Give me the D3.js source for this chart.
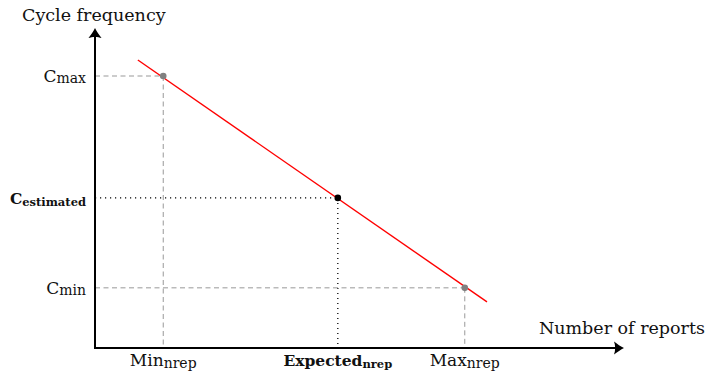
<!DOCTYPE html>
<html><head><meta charset="utf-8">
<script src="https://cdn.jsdelivr.net/npm/d3@7"></script>
<style>body{margin:0;background:#fff}svg{display:block}text{font-family:"DejaVu Serif",serif;fill:#111}</style>
</head><body>
<script>
// data (abstract units)
const pointNames = ["min", "expected", "max"];
const xValues = [12.9, 45.9, 69.9];     // number of reports
const yValues = [85, 46.9, 18.8];       // cycle frequency
const pointKinds = ["bound", "estimate", "bound"];
const lineX = [8.1, 74.1];
const lineY = [90, 14.4];
const yTickMain = ["C", "C", "C"];
const yTickSub = ["max", "estimated", "min"];
const xTickMain = ["Min", "Expected", "Max"];
const xTickSub = ["nrep", "nrep", "nrep"];
const axisTitleX = "Number of reports";
const axisTitleY = "Cycle frequency";

const W = 707, H = 378;
const svg = d3.select("body").append("svg").attr("width", W).attr("height", H);
const x = d3.scaleLinear().domain([0, 100]).range([95, 624]);
const y = d3.scaleLinear().domain([0, 100]).range([348, 28]);

const pts = xValues.map((v, i) => ({x: v, y: yValues[i], kind: pointKinds[i], name: pointNames[i]}));

// guide lines
pts.forEach(p => {
  const st = p.kind === "bound" ? {c: "#999", d: "5,3.5", w: 1} : {c: "#000", d: "1.2,3.8", w: 1.3};
  svg.append("line").attr("x1", x(0)).attr("x2", x(p.x)).attr("y1", y(p.y)).attr("y2", y(p.y))
    .attr("stroke", st.c).attr("stroke-width", st.w).attr("stroke-dasharray", st.d);
  svg.append("line").attr("x1", x(p.x)).attr("x2", x(p.x)).attr("y1", y(p.y)).attr("y2", y(0))
    .attr("stroke", st.c).attr("stroke-width", st.w).attr("stroke-dasharray", st.d);
});

// axes
svg.append("line").attr("x1", x(0) - 1).attr("y1", y(0)).attr("x2", x(100) - 3).attr("y2", y(0))
  .attr("stroke", "#000").attr("stroke-width", 2);
svg.append("line").attr("x1", x(0)).attr("y1", y(0) + 1).attr("x2", x(0)).attr("y2", y(100) + 3)
  .attr("stroke", "#000").attr("stroke-width", 2);
// arrowheads (latex style)
const ah = "M0,0 C-3,-1.5 -7,-4 -10,-6.5 C-8.5,-3 -8.5,3 -10,6.5 C-7,4 -3,1.5 0,0Z";
svg.append("path").attr("d", ah).attr("fill", "#000")
  .attr("transform", `translate(${x(100)},${y(0)})`);
svg.append("path").attr("d", ah).attr("fill", "#000")
  .attr("transform", `translate(${x(0)},${y(100)}) rotate(-90)`);

// red line
svg.append("line").attr("x1", x(lineX[0])).attr("y1", y(lineY[0])).attr("x2", x(lineX[1])).attr("y2", y(lineY[1]))
  .attr("stroke", "#f00").attr("stroke-width", 1.4);

// points
svg.selectAll("circle.p").data(pts).join("circle").attr("class", "p")
  .attr("cx", d => x(d.x)).attr("cy", d => y(d.y)).attr("r", 3.3)
  .attr("fill", d => d.kind === "bound" ? "#808080" : "#000");

// y tick labels
pts.forEach((p, i) => {
  const bold = p.kind === "estimate";
  const t = svg.append("text").attr("x", x(0) - 9).attr("y", y(p.y) + 6).attr("text-anchor", "end")
    .style("font-size", bold ? "15.5px" : "17px").style("font-weight", bold ? "bold" : "normal");
  t.append("tspan").text(yTickMain[i]);
  t.append("tspan").attr("dy", bold ? 2 : 1).style("font-size", bold ? "11.5px" : "14px").text(yTickSub[i]);
});
// x tick labels
pts.forEach((p, i) => {
  const bold = p.kind === "estimate";
  const t = svg.append("text").attr("x", x(p.x)).attr("y", 366).attr("text-anchor", "middle")
    .style("font-size", bold ? "15.5px" : "17px").style("font-weight", bold ? "bold" : "normal");
  t.append("tspan").text(xTickMain[i]);
  t.append("tspan").attr("dy", 2).style("font-size", bold ? "11.5px" : "14px").text(xTickSub[i]);
});

// axis titles
svg.append("text").attr("x", 22).attr("y", 21).style("font-size", "17.5px").text(axisTitleY);
svg.append("text").attr("x", 705).attr("y", 334).attr("text-anchor", "end").style("font-size", "17.5px").text(axisTitleX);
</script>
</body></html>
